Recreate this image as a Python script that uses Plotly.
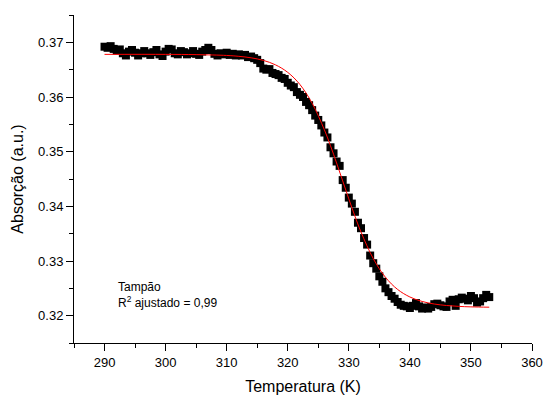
import plotly.graph_objects as go

temp_start = 290.0
temp_step = 0.5
absorcao = [
    0.3692, 0.3690, 0.3693, 0.3688, 0.3685, 0.3687, 0.3680, 0.3676, 0.3683, 0.3686,
    0.3681, 0.3676, 0.3680, 0.3684, 0.3680, 0.3677, 0.3682, 0.3686, 0.3678, 0.3675,
    0.3683, 0.3688, 0.3687, 0.3680, 0.3678, 0.3684, 0.3682, 0.3678, 0.3680, 0.3684,
    0.3679, 0.3677, 0.3683, 0.3686, 0.3690, 0.3686, 0.3679, 0.3676, 0.3680, 0.3678,
    0.3681, 0.3677, 0.3679, 0.3676, 0.3678, 0.3676, 0.3677, 0.3673, 0.3674, 0.3671,
    0.3668, 0.3662, 0.3652, 0.3650, 0.3651, 0.3644, 0.3642, 0.3640, 0.3635, 0.3633,
    0.3626, 0.3621, 0.3618, 0.3609, 0.3604, 0.3600, 0.3591, 0.3585, 0.3576, 0.3566,
    0.3558, 0.3548, 0.3535, 0.3526, 0.3508, 0.3497, 0.3482, 0.3474, 0.3448, 0.3434,
    0.3416, 0.3405, 0.3390, 0.3370, 0.3360, 0.3342, 0.3330, 0.3310, 0.3296, 0.3286,
    0.3272, 0.3262, 0.3250, 0.3243, 0.3236, 0.3231, 0.3225, 0.3220, 0.3218, 0.3217,
    0.3214, 0.3218, 0.3223, 0.3217, 0.3213, 0.3215, 0.3213, 0.3216, 0.3221, 0.3222,
    0.3219, 0.3217, 0.3216, 0.3226, 0.3229, 0.3218, 0.3230, 0.3233, 0.3231, 0.3228,
    0.3236, 0.3232, 0.3224, 0.3226, 0.3232, 0.3238, 0.3234,
]
temperatura = [temp_start + temp_step * i for i in range(len(absorcao))]

ajuste_t = [290, 300, 305, 310, 312, 314, 316, 318, 320, 322, 324, 326, 327, 328,
            329, 330, 331, 332, 334, 336, 338, 340, 342, 344, 346, 348, 350, 353]
ajuste_a = [0.36780, 0.36780, 0.36775, 0.36760, 0.36744, 0.36717, 0.36670, 0.36588,
            0.36451, 0.36228, 0.35885, 0.35400, 0.35109, 0.34793, 0.34465, 0.34137,
            0.33821, 0.33530, 0.33045, 0.32702, 0.32479, 0.32342, 0.32260, 0.32213,
            0.32186, 0.32170, 0.32161, 0.32155]

x_ticks = [290, 300, 310, 320, 330, 340, 350, 360]
y_ticks = [0.32, 0.33, 0.34, 0.35, 0.36, 0.37]

FONT = "Liberation Sans, Arial, sans-serif"

fig = go.Figure()
fig.add_trace(go.Scatter(
    x=temperatura, y=absorcao, mode="markers",
    marker=dict(symbol="square", size=8, color="black", line=dict(width=0)),
    showlegend=False, hoverinfo="skip"))
fig.add_trace(go.Scatter(
    x=ajuste_t, y=ajuste_a, mode="lines", line=dict(color="red", width=1, shape="spline"),
    showlegend=False, hoverinfo="skip"))

fig.add_annotation(
    x=291.9, y=0.3238, xref="x", yref="y", xanchor="left", yanchor="middle",
    text="Tampão<br>R<sup>2</sup> ajustado = 0,99", showarrow=False, align="left",
    font=dict(family=FONT, size=12, color="black"))

axis_common = dict(
    showline=True, linecolor="black", linewidth=1, showgrid=False, zeroline=False,
    ticks="outside", ticklen=7, tickwidth=1, tickcolor="black", mirror=False,
    automargin=False,
    tickfont=dict(family=FONT, size=13, color="black"),
)
fig.update_xaxes(range=[285, 360], tickvals=x_ticks, ticktext=[str(v) for v in x_ticks],
                 minor=dict(dtick=5, tick0=285, ticks="outside", ticklen=4, tickcolor="black"),
                 title=dict(text="Temperatura (K)", font=dict(family=FONT, size=16, color="black"), standoff=12),
                 **axis_common)
fig.update_yaxes(range=[0.315, 0.375], tickvals=y_ticks, ticktext=[f"{v:.2f}" for v in y_ticks],
                 minor=dict(dtick=0.005, tick0=0.315, ticks="outside", ticklen=4, tickcolor="black"),
                 title=dict(text="Absorção (a.u.)", font=dict(family=FONT, size=16, color="black"), standoff=10),
                 **axis_common)
fig.update_layout(
    width=544, height=396, margin=dict(l=74, r=12, t=15, b=53),
    plot_bgcolor="white", paper_bgcolor="white",
)
fig.write_html("out.html")
